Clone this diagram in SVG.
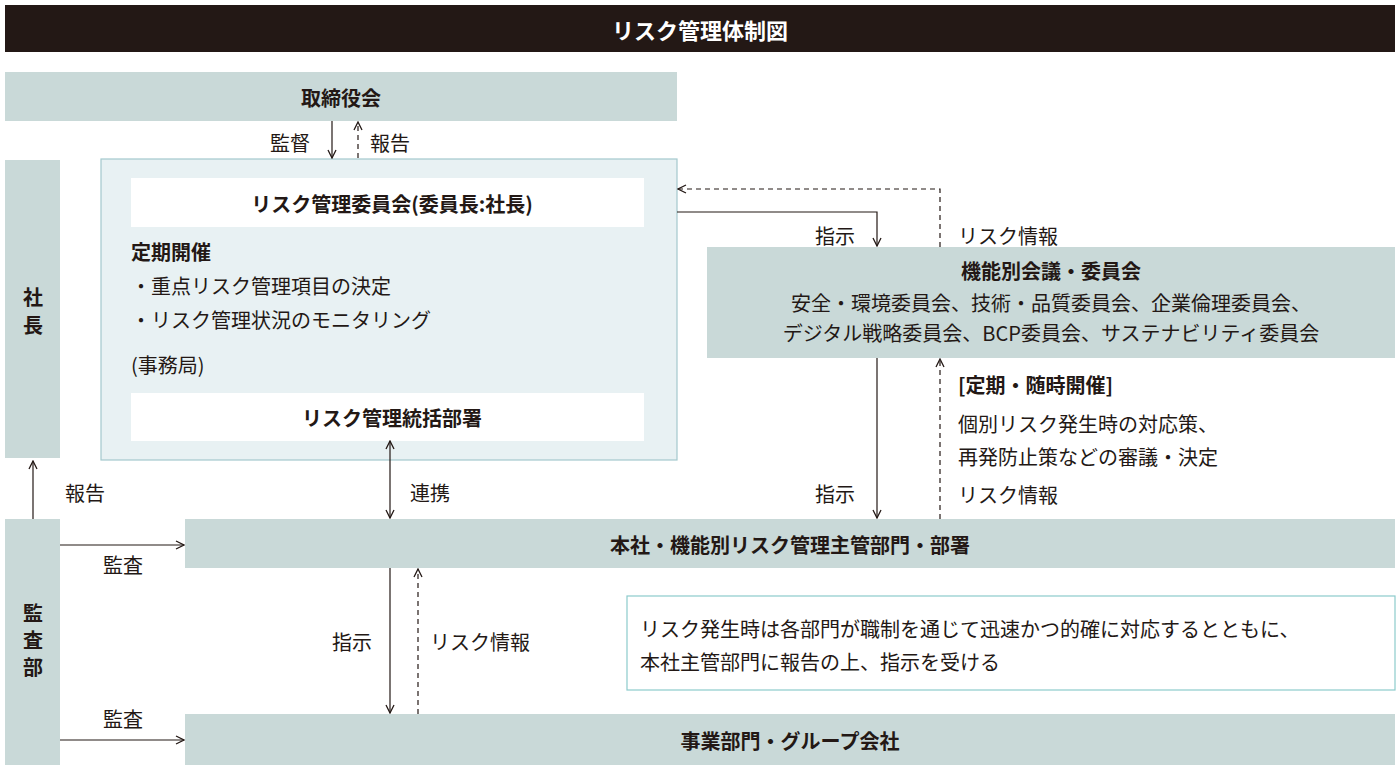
<svg xmlns="http://www.w3.org/2000/svg" width="1400" height="770" viewBox="0 0 1400 770">
<defs>
<marker id="ah" viewBox="0 0 10 10" refX="9" refY="5" markerWidth="10" markerHeight="10" markerUnits="userSpaceOnUse" orient="auto-start-reverse"><path d="M1,1 L9,5 L1,9" fill="none" stroke="#231815" stroke-width="1.3"/></marker>
</defs>
<style>
text{font-family:"Noto Sans CJK JP","Noto Sans",sans-serif;font-size:20px;fill:#231815;dominant-baseline:central}
.c{text-anchor:middle}
.b{font-weight:bold}
.g{fill:#c9d9d8}
.w{fill:#fff}
.ln{stroke:#231815;stroke-width:1.2;fill:none;marker-end:url(#ah)}
.d{stroke-dasharray:5,4}
</style>
<rect x="5" y="5" width="1390" height="47" fill="#231815"/>
<text x="700" y="29" class="c b" style="fill:#fff;font-size:22px">リスク管理体制図</text>
<g id="board"><rect class="g" x="5" y="72" width="672" height="49"/><text x="341" y="97" class="c b">取締役会</text></g>
<g id="president"><rect class="g" x="5" y="160" width="55" height="298"/><text x="33" y="296" class="c b">社</text><text x="33" y="324" class="c b">長</text></g>
<g id="committee"><rect x="101" y="159" width="576" height="301" fill="#e8f1f3" stroke="#a3c9cd" stroke-width="1.2"/>
<rect class="w" x="131" y="178" width="513" height="49"/><text x="392" y="203" class="c b">リスク管理委員会(委員長:社長)</text>
<text x="131" y="251" class="b">定期開催</text>
<text x="131" y="285">・重点リスク管理項目の決定</text>
<text x="131" y="319">・リスク管理状況のモニタリング</text>
<text x="131" y="364">(事務局)</text>
<rect class="w" x="131" y="393" width="513" height="48"/><text x="392" y="417" class="c b">リスク管理統括部署</text></g>
<g id="functional"><rect class="g" x="707" y="247" width="688" height="111"/><text x="1051" y="270" class="c b">機能別会議・委員会</text><text x="1051" y="302" class="c">安全・環境委員会、技術・品質委員会、企業倫理委員会、</text><text x="1051" y="332" class="c">デジタル戦略委員会、BCP委員会、サステナビリティ委員会</text></g>
<g id="hq"><rect class="g" x="185" y="519" width="1210" height="49"/><text x="790" y="544" class="c b">本社・機能別リスク管理主管部門・部署</text></g>
<g id="audit"><rect class="g" x="5" y="519" width="55" height="246"/><text x="33" y="612" class="c b">監</text><text x="33" y="639" class="c b">査</text><text x="33" y="666" class="c b">部</text></g>
<g id="business"><rect class="g" x="185" y="714" width="1210" height="51"/><text x="790" y="740" class="c b">事業部門・グループ会社</text></g>
<g id="note"><rect x="627" y="596" width="768" height="94" fill="#fff" stroke="#8ccbcc" stroke-width="1.2"/><text x="640" y="628">リスク発生時は各部門が職制を通じて迅速かつ的確に対応するとともに、</text><text x="640" y="661">本社主管部門に報告の上、指示を受ける</text></g>
<g id="connectors">
<path class="ln" d="M332,121 V158"/>
<path class="ln d" d="M358,158 V122"/>
<path class="ln" d="M33,519 V461"/>
<path class="ln" d="M390,441 V518" style="marker-start:url(#ah)"/>
<path class="ln" d="M677,212 H877 V246"/>
<path class="ln d" d="M940,247 V189 H678"/>
<path class="ln" d="M877,358 V518"/>
<path class="ln d" d="M940,519 V359"/>
<path class="ln" d="M60,545 H184"/>
<path class="ln" d="M60,740 H184"/>
<path class="ln" d="M390,568 V713"/>
<path class="ln d" d="M418,714 V569"/>
</g>
<text x="290" y="142" class="c">監督</text>
<text x="390" y="142" class="c">報告</text>
<text x="65" y="492">報告</text>
<text x="410" y="492">連携</text>
<text x="835" y="235" class="c">指示</text>
<text x="958" y="235">リスク情報</text>
<text x="835" y="493" class="c">指示</text>
<text x="958" y="384" class="b">[定期・随時開催]</text>
<text x="958" y="423">個別リスク発生時の対応策、</text>
<text x="958" y="456">再発防止策などの審議・決定</text>
<text x="958" y="494">リスク情報</text>
<text x="123" y="564" class="c">監査</text>
<text x="123" y="718" class="c">監査</text>
<text x="352" y="641" class="c">指示</text>
<text x="430" y="641">リスク情報</text>
</svg>
